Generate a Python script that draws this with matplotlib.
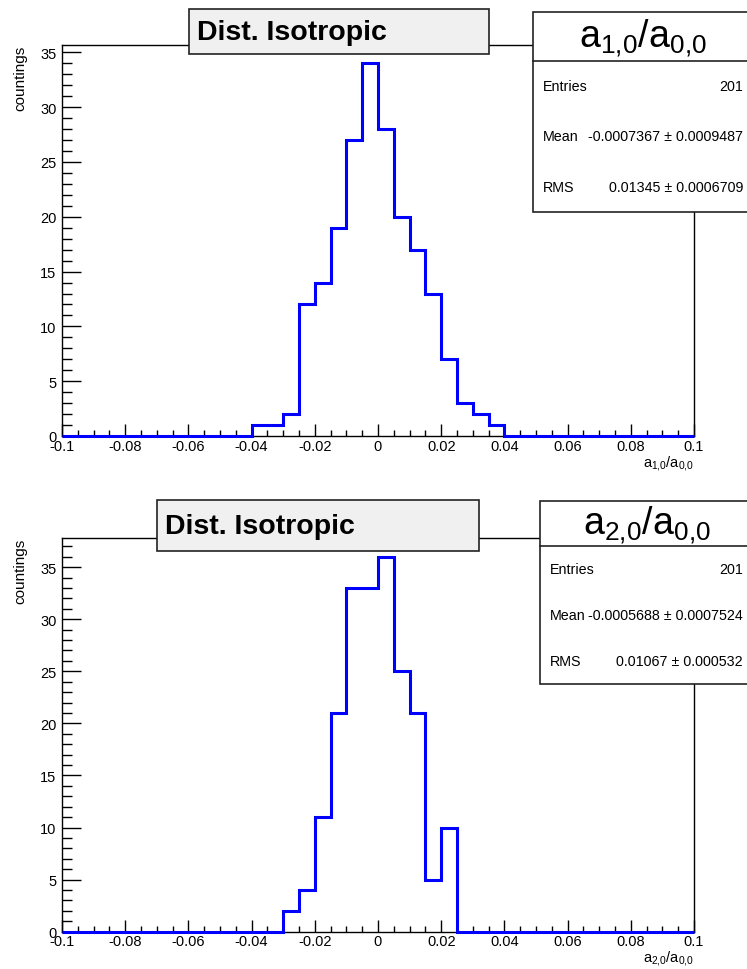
import matplotlib
matplotlib.use('Agg')
import matplotlib.pyplot as plt
from matplotlib.patches import Rectangle
from matplotlib.lines import Line2D
from matplotlib.ticker import MultipleLocator
import numpy as np

plt.rcParams['font.family'] = ['Liberation Sans', 'DejaVu Sans']
plt.rcParams['mathtext.fontset'] = 'custom'
plt.rcParams['mathtext.rm'] = 'Liberation Sans'
plt.rcParams['mathtext.it'] = 'Liberation Sans'
plt.rcParams['axes.unicode_minus'] = False

# 40 bins of width 0.005 between -0.1 and 0.1
x_min, x_max, n_bins = -0.1, 0.1, 40

counts_a10 = [0, 0, 0, 0, 0, 0, 0, 0, 0, 0, 0, 0,
              1, 1, 2, 12, 14, 19, 27, 34, 28, 20, 17, 13, 7, 3, 2, 1,
              0, 0, 0, 0, 0, 0, 0, 0, 0, 0, 0, 0]
counts_a20 = [0, 0, 0, 0, 0, 0, 0, 0, 0, 0, 0, 0, 0, 0,
              2, 4, 11, 21, 33, 33, 36, 25, 21, 5, 10,
              0, 0, 0, 0, 0, 0, 0, 0, 0, 0, 0, 0, 0, 0, 0]

labels = [r'$\mathregular{a_{1{,}0}/a_{0{,}0}}$', r'$\mathregular{a_{2{,}0}/a_{0{,}0}}$']
entries = [201, 201]
means = ['-0.0007367 ± 0.0009487', '-0.0005688 ± 0.0007524']
rms = ['0.01345 ± 0.0006709', '0.01067 ± 0.000532']
hist_title = 'Dist. Isotropic'

W, H = 747, 970
fig = plt.figure(figsize=(W / 100, H / 100), dpi=100)


def fx(px):
    return px / W


def fy(py):
    return 1 - py / H


def tick_fmt(v, pos):
    v = round(v, 3)
    if v == 0:
        return '0'
    return '%g' % v


def add_box(x0, y0, x1, y1, face):
    fig.add_artist(Rectangle((fx(x0), fy(y1)), fx(x1) - fx(x0), fy(y0) - fy(y1),
                             transform=fig.transFigure, facecolor=face,
                             edgecolor='#222222', lw=1.2, zorder=5, clip_on=False))


def draw_pad(counts, top, bottom, title_box, stats_box, idx):
    ax = fig.add_axes([fx(62), fy(bottom), fx(694) - fx(62), fy(top) - fy(bottom)])
    edges = np.linspace(x_min, x_max, n_bins + 1)
    ax.stairs(counts, edges, color='#0000ff', lw=2.2, baseline=0,
              clip_on=False, zorder=3)
    ax.set_xlim(x_min, x_max)
    ax.set_ylim(0, max(counts) * 1.05)
    ax.xaxis.set_major_locator(MultipleLocator(0.02))
    ax.xaxis.set_minor_locator(MultipleLocator(0.005))
    ax.yaxis.set_major_locator(MultipleLocator(5))
    ax.yaxis.set_minor_locator(MultipleLocator(1))
    ax.xaxis.set_major_formatter(tick_fmt)
    ax.tick_params(axis='x', which='major', direction='in', length=8.6, width=1,
                   labelsize=10.5, pad=2, top=False)
    ax.tick_params(axis='x', which='minor', direction='in', length=4.3, width=1, top=False)
    ax.tick_params(axis='y', which='major', direction='in', length=13.7, width=1,
                   labelsize=10.5, pad=4, right=False)
    ax.tick_params(axis='y', which='minor', direction='in', length=7, width=1, right=False)
    for s in ax.spines.values():
        s.set_linewidth(1)
    ax.set_ylabel('countings', fontsize=11, loc='top', labelpad=9)
    ax.set_xlabel(labels[idx], fontsize=10.5, loc='right', labelpad=0)

    # title box
    x0, y0, x1, y1 = title_box
    add_box(x0, y0, x1, y1, '#f0f0f0')
    fig.text(fx(x0 + 8), fy((y0 + y1) / 2 + 1), hist_title, fontsize=20.5,
             fontweight='bold', ha='left', va='center', zorder=6)

    # statistics box
    x0, y0, x1, y1, ydiv = stats_box
    add_box(x0, y0, x1, y1, 'white')
    fig.add_artist(Line2D([fx(x0), 1], [fy(ydiv), fy(ydiv)], color='#222222',
                          lw=1.2, transform=fig.transFigure, zorder=6))
    fig.text(fx((x0 + 747) / 2 + 3), fy((y0 + ydiv) / 2 + 1), labels[idx],
             fontsize=27, ha='center', va='center', zorder=6)
    xl = x0 + 10
    xr = 743
    rows = [('Entries', str(entries[idx])), ('Mean', means[idx]), ('RMS', rms[idx])]
    for k, (name, val) in enumerate(rows):
        yy = ydiv + (y1 - ydiv) * (k + 0.5) / 3
        fig.text(fx(xl), fy(yy), name, fontsize=10.3, ha='left', va='center', zorder=6)
        fig.text(fx(xr), fy(yy), val, fontsize=10.3, ha='right', va='center', zorder=6)
    return ax


draw_pad(counts_a10, 45.7, 437, (189, 10, 489, 55), (533, 13, 760, 213, 62), 0)
draw_pad(counts_a20, 539, 932.7, (157, 501, 479, 552), (540, 502, 760, 685, 547), 1)

fig.savefig('out.png', dpi=100)
